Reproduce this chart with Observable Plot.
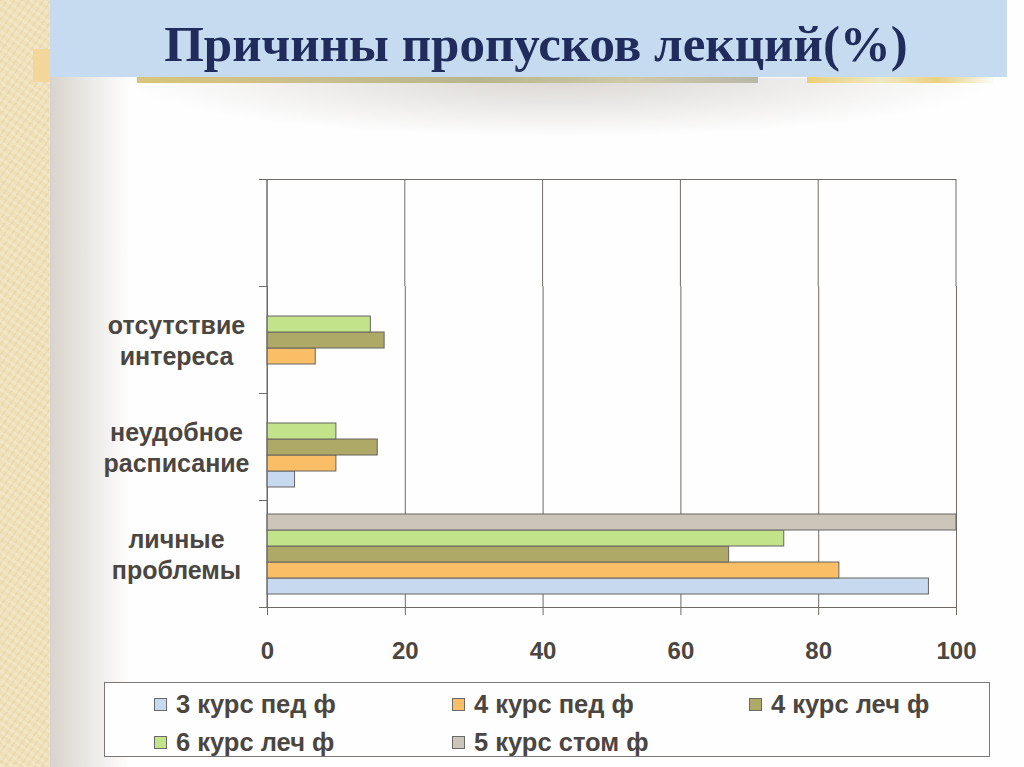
<!DOCTYPE html>
<html>
<head>
<meta charset="utf-8">
<script src="https://cdn.jsdelivr.net/npm/d3@7"></script>
<script src="https://cdn.jsdelivr.net/npm/@observablehq/plot@0.6"></script>
<style>
  html, body { margin: 0; padding: 0; }
  body { width: 1024px; height: 767px; position: relative; overflow: hidden; background: #fefefe; font-family: "Liberation Sans", Arial, sans-serif; }
  .abs { position: absolute; }
  #beige { left: 0; top: 0; width: 50px; height: 767px;
    background:
      repeating-linear-gradient(35deg, rgba(255,255,255,0.18) 0 3px, rgba(0,0,0,0) 3px 7px),
      repeating-linear-gradient(-55deg, rgba(200,170,110,0.15) 0 2px, rgba(0,0,0,0) 2px 6px),
      #f0e0ba; }
  #fade { left: 50px; top: 0; width: 80px; height: 767px; background: linear-gradient(to right, #d8d4cc, #fefefe); }
  #orange { left: 33px; top: 49px; width: 17px; height: 33px; background: #f3d699; }
  #shadow { left: 120px; top: 78px; width: 880px; height: 60px; background: radial-gradient(ellipse at 50% 0%, rgba(150,140,130,0.35), rgba(255,255,255,0) 70%); }
  #strip { left: 137px; top: 77px; width: 621px; height: 6px; background: linear-gradient(to right, #d9c47a, #c9be8e 30%, #b8b58c 55%, #cfc9a8 80%, #b9b7a8); }
  #flowers { left: 807px; top: 72px; width: 186px; height: 11px; background: linear-gradient(to right, rgba(232,194,74,0.7), rgba(240,220,150,0.5) 40%, rgba(225,190,80,0.7) 70%, rgba(250,245,230,0.4)); }
  #titlebox { left: 50px; top: 0; width: 957px; height: 77px; background: #c6dbef; }
  #title { left: 50px; top: 0; width: 972px; height: 77px; text-align: center; line-height: 88px;
    font-family: "Liberation Serif", "Times New Roman", serif; font-weight: bold; font-size: 51px; color: #1f2c5c; }
  #chart { left: 0; top: 150px; }
  #legend { left: 104px; top: 682px; width: 884px; height: 73px; border: 1px solid #7a7774; background: #fefefe; box-sizing: content-box; }
  .item { position: absolute; display: flex; align-items: center; font-weight: bold; font-size: 25.5px; color: #4b4641; white-space: nowrap; }
  .sw { width: 11px; height: 11px; border: 1px solid #6a6a6a; margin-right: 9px; }
</style>
</head>
<body>
<div id="beige" class="abs"></div>
<div id="fade" class="abs"></div>
<div id="orange" class="abs"></div>
<div id="shadow" class="abs"></div>
<div id="strip" class="abs"></div>
<div id="flowers" class="abs"></div>
<div id="titlebox" class="abs"></div>
<div id="title" class="abs">Причины пропусков лекций(%)</div>
<div id="chart" class="abs"></div>
<div id="legend" class="abs"></div>
<script>
// ---- data ----
const categories = ["отсутствие интереса", "неудобное расписание", "личные проблемы"];
const categoryLabels = ["отсутствие\nинтереса", "неудобное\nрасписание", "личные\nпроблемы"];
const emptyBand = "";  // unused top band of the chart
const series = ["3 курс пед ф", "4 курс пед ф", "4 курс леч ф", "6 курс леч ф", "5 курс стом ф"];
const colors = ["#c6d9ef", "#f9be66", "#afa967", "#c3e38a", "#ccc6ba"];
// values per series, in the order of categories
const v3ped  = [0, 4, 96];
const v4ped  = [7, 10, 83];
const v4lech = [17, 16, 67];
const v6lech = [15, 10, 75];
const v5stom = [0, 0, 100];
const xTicks = [0, 20, 40, 60, 80, 100];

const seriesValues = [v3ped, v4ped, v4lech, v6lech, v5stom];
const rows = [];
series.forEach((s, i) => categories.forEach((c, j) => {
  rows.push({series: s, category: c, value: seriesValues[i][j]});
}));
const bars = rows.filter(d => d.value > 0);
const labelRows = categories.map((c, i) => ({category: c, label: categoryLabels[i]}));

const ink = "#4b4641";
const lineColor = "#6f6b67";

const plot = Plot.plot({
  width: 1024,
  height: 520,
  marginTop: 27,
  marginLeft: 267,
  marginRight: 68,
  marginBottom: 62,
  style: {background: "transparent", color: ink, fontFamily: "Liberation Sans, Arial, sans-serif"},
  x: {domain: [0, 100], label: null},
  y: {domain: series.slice().reverse(), paddingInner: 0, paddingOuter: 0.75, axis: null},
  fy: {domain: [emptyBand, ...categories], padding: 0, axis: null},
  color: {domain: series, range: colors},
  marks: [
    Plot.gridX(xTicks, {stroke: lineColor, strokeOpacity: 1, strokeWidth: 1}),
    Plot.barX(bars, {fy: "category", y: "series", x: "value", fill: "series", stroke: "#666462", strokeWidth: 1}),
    Plot.text(labelRows, {fy: "category", text: "label", frameAnchor: "left", dx: -91, textAnchor: "middle",
      fontSize: 25, fontWeight: "bold", fill: ink, lineHeight: 1.24}),
    Plot.axisX({ticks: xTicks, tickSize: 8, tickPadding: 26, fontSize: 24, fontWeight: "bold", stroke: lineColor, fill: ink, strokeOpacity: 1, label: null})
  ]
});
document.getElementById("chart").appendChild(plot);

// axis frame lines at band boundaries + grid of the empty top band, positioned with the plot's own scales
const xs = plot.scale("x"), fys = plot.scale("fy");
const x0 = xs.apply(0), x1 = xs.apply(100);
const svg = d3.select(plot);
const bands = [emptyBand, ...categories];
const bounds = bands.map(b => fys.apply(b));
bounds.push(fys.apply(categories[categories.length - 1]) + fys.bandwidth);
const g = svg.append("g").attr("stroke", lineColor).attr("stroke-width", 1);
xTicks.forEach(t => {
  g.append("line").attr("x1", xs.apply(t)).attr("x2", xs.apply(t))
    .attr("y1", bounds[0]).attr("y2", bounds[1]);
});
bounds.forEach((yv, i) => {
  const full = i === 0 || i === bounds.length - 1;
  g.append("line").attr("x1", x0 - 8).attr("x2", full ? x1 : x0)
    .attr("y1", Math.round(yv) + 0.5).attr("y2", Math.round(yv) + 0.5);
});
g.append("line").attr("x1", x0).attr("x2", x0).attr("y1", bounds[0]).attr("y2", bounds[bounds.length - 1]);

// legend
const legend = document.getElementById("legend");
const legendPos = [[49, 21], [347, 21], [644, 21], [49, 59], [347, 59]];
series.forEach((s, k) => {
  const it = document.createElement("div");
  it.className = "item";
  it.style.left = legendPos[k][0] + "px";
  it.style.top = (legendPos[k][1] - 15) + "px";
  it.style.height = "30px";
  const sw = document.createElement("div");
  sw.className = "sw";
  sw.style.background = colors[k];
  it.appendChild(sw);
  const t = document.createElement("span");
  t.textContent = s;
  it.appendChild(t);
  legend.appendChild(it);
});
</script>
</body>
</html>
